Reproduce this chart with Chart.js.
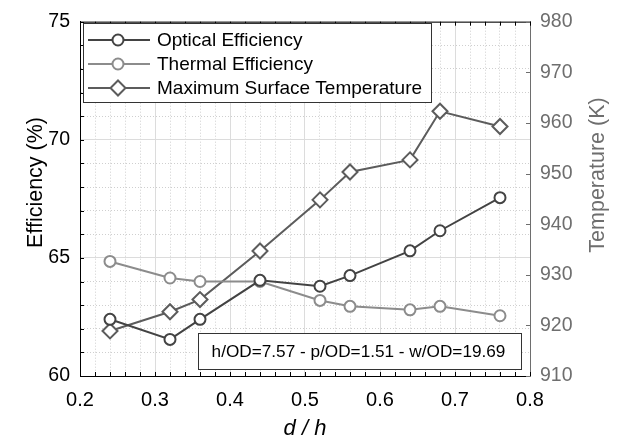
<!DOCTYPE html>
<html><head><meta charset="utf-8">
<script src="https://cdn.jsdelivr.net/npm/chart.js@4/dist/chart.umd.min.js"></script>
<style>html,body{margin:0;padding:0;background:#fff;}#wrap{width:618px;height:439px;}</style>
</head><body><div id="wrap"><canvas id="c" width="618" height="439"></canvas></div>
<script>
// ---- data ----
const dOverH = [0.24, 0.32, 0.36, 0.44, 0.52, 0.56, 0.64, 0.68, 0.76];
const opticalEfficiency = [62.4, 61.55, 62.4, 64.05, 63.8, 64.25, 65.3, 66.15, 67.55];
const thermalEfficiency = [64.85, 64.15, 64.0, 64.0, 63.2, 62.95, 62.8, 62.95, 62.55];
const maxSurfaceTemperature = [918.9, 922.7, 925.1, 934.7, 944.8, 950.3, 952.7, 962.3, 959.3];
const seriesLabels = ['Optical Efficiency', 'Thermal Efficiency', 'Maximum Surface Temperature'];
const xTickRange = [0.2, 0.8];
const effTickRange = [60, 75];
const tempTickRange = [910, 980];
const annotationText = 'h/OD=7.57 - p/OD=1.51 - w/OD=19.69';
const xTitle = 'd / h', yTitle = 'Efficiency (%)', y2Title = 'Temperature (K)';

const FONT = "'Liberation Sans', Arial, Helvetica, sans-serif";
const C_OPT = '#434343', C_TH = '#8c8c8c', C_TEMP = '#5c5c5c', C_R = '#6e6e6e';
const GRID_MAJOR = '#dcdcdc', GRID_MINOR = '#cfcfcf';

const isMajor = (v, m) => Math.abs(v / m - Math.round(v / m)) < 1e-6;
const pts = (ys) => dOverH.map((x, i) => ({x, y: ys[i]}));

function marker(ctx, style, x, y, r, color) {
  ctx.save();
  ctx.lineWidth = 2; ctx.strokeStyle = color; ctx.fillStyle = '#fff';
  ctx.beginPath();
  if (style === 'circle') ctx.arc(x, y, r, 0, Math.PI * 2);
  else { ctx.moveTo(x, y - r); ctx.lineTo(x + r, y); ctx.lineTo(x, y + r); ctx.lineTo(x - r, y); ctx.closePath(); }
  ctx.fill(); ctx.stroke();
  ctx.restore();
}

const decor = {
  id: 'decor',
  afterDraw(chart) {
    const {ctx, chartArea: a, scales} = chart;
    const line = (x1, y1, x2, y2) => { ctx.beginPath(); ctx.moveTo(x1, y1); ctx.lineTo(x2, y2); ctx.stroke(); };
    ctx.save();
    ctx.lineWidth = 1; ctx.strokeStyle = '#000';
    line(a.left, a.top + 0.5, a.right, a.top + 0.5);
    const tl = 4;
    scales.x.ticks.forEach(t => {
      const px = Math.round(scales.x.getPixelForValue(t.value)) + 0.5;
      line(px, a.bottom, px, a.bottom - tl);
      line(px, a.top, px, a.top + tl);
    });
    scales.y.ticks.forEach(t => {
      const py = Math.round(scales.y.getPixelForValue(t.value)) + 0.5;
      line(a.left, py, a.left + tl, py);
    });
    ctx.strokeStyle = C_R;
    scales.y2.ticks.forEach(t => {
      const py = Math.round(scales.y2.getPixelForValue(t.value)) + 0.5;
      line(a.right, py, a.right - tl, py);
    });
    // y titles (both read bottom-to-top)
    ctx.textAlign = 'center'; ctx.textBaseline = 'middle';
    ctx.font = `21.5px ${FONT}`;
    ctx.fillStyle = '#000';
    ctx.save(); ctx.translate(36, 182.5); ctx.rotate(-Math.PI / 2); ctx.fillText(yTitle, 0, 0); ctx.restore();
    ctx.fillStyle = C_R;
    ctx.save(); ctx.translate(598, 175); ctx.rotate(-Math.PI / 2); ctx.fillText(y2Title, 0, 0); ctx.restore();

    // legend box
    const lx = a.left + 3, ly = 23, lw = 348, lh = 79;
    ctx.fillStyle = '#fff'; ctx.fillRect(lx, ly, lw, lh);
    ctx.strokeStyle = '#333'; ctx.lineWidth = 1;
    ctx.strokeRect(lx + 0.5, ly + 0.5, lw, lh);
    chart.data.datasets.forEach((ds, i) => {
      const yy = 40 + i * 24;
      ctx.strokeStyle = ds.borderColor; ctx.lineWidth = 2;
      line(a.left + 8, yy, a.left + 70, yy);
      marker(ctx, ds.pointStyle === 'circle' ? 'circle' : 'diamond', a.left + 38, yy, ds.pointStyle === 'circle' ? 5.5 : 7.5, ds.borderColor);
      ctx.fillStyle = '#000'; ctx.textAlign = 'left'; ctx.textBaseline = 'middle';
      ctx.font = `19px ${FONT}`;
      ctx.fillText(ds.label, a.left + 77, yy + 1);
    });

    // annotation box
    const bx = a.left + 118, by = a.bottom - 43, bw = 323, bh = 36;
    ctx.fillStyle = '#fff'; ctx.fillRect(bx, by, bw, bh);
    ctx.strokeStyle = '#333'; ctx.lineWidth = 1;
    ctx.strokeRect(bx + 0.5, by + 0.5, bw, bh);
    ctx.fillStyle = '#000'; ctx.textAlign = 'center'; ctx.textBaseline = 'middle';
    ctx.font = `17.2px ${FONT}`;
    ctx.fillText(annotationText, bx + bw / 2 - 1, by + bh / 2 + 1);
    ctx.restore();
  }
};

const gridColor = (m) => (c) => (c.tick && isMajor(c.tick.value, m)) ? GRID_MAJOR : GRID_MINOR;
const gridDash = (m) => (c) => (c.tick && !isMajor(c.tick.value, m)) ? [1, 2] : [];

new Chart(document.getElementById('c'), {
  type: 'scatter',
  data: {
    datasets: [
      {label: seriesLabels[0], data: pts(opticalEfficiency), yAxisID: 'y', showLine: true,
       borderColor: C_OPT, borderWidth: 2, pointStyle: 'circle', pointRadius: 5.5, pointBorderWidth: 2,
       pointBackgroundColor: '#fff', pointBorderColor: C_OPT},
      {label: seriesLabels[1], data: pts(thermalEfficiency), yAxisID: 'y', showLine: true,
       borderColor: C_TH, borderWidth: 2, pointStyle: 'circle', pointRadius: 5.5, pointBorderWidth: 2,
       pointBackgroundColor: '#fff', pointBorderColor: C_TH},
      {label: seriesLabels[2], data: pts(maxSurfaceTemperature), yAxisID: 'y2', showLine: true,
       borderColor: C_TEMP, borderWidth: 2, pointStyle: 'rectRot', pointRadius: 7.5, pointBorderWidth: 2,
       pointBackgroundColor: '#fff', pointBorderColor: C_TEMP}
    ]
  },
  options: {
    responsive: false, animation: false, devicePixelRatio: 1,
    layout: {padding: {top: 19, left: 0, right: 0, bottom: 0}},
    plugins: {legend: {display: false}, tooltip: {enabled: false}},
    scales: {
      x: {
        type: 'linear', position: 'bottom', min: xTickRange[0], max: xTickRange[1],
        afterFit(s) { s.height = 63; },
        ticks: {stepSize: 0.02, autoSkip: false, maxRotation: 0, maxTicksLimit: 100, padding: 12, color: '#000',
                font: {family: FONT, size: 20},
                callback: v => isMajor(v, 0.1) ? v.toFixed(1) : ''},
        grid: {color: gridColor(0.1), lineWidth: 1, drawTicks: false},
        border: {color: '#000', width: 1, dash: gridDash(0.1)},
        title: {display: true, text: xTitle, color: '#000', font: {family: FONT, size: 22, style: 'italic'}, padding: {top: 0, bottom: -3}}
      },
      y: {
        type: 'linear', position: 'left', min: effTickRange[0], max: effTickRange[1],
        afterFit(s) { s.width = 80; },
        ticks: {stepSize: 1, autoSkip: false, maxTicksLimit: 100, padding: 10, color: '#000',
                font: {family: FONT, size: 19.5},
                callback: v => isMajor(v, 5) ? String(v) : ''},
        grid: {color: gridColor(5), lineWidth: 1, drawTicks: false},
        border: {color: '#000', width: 1, dash: gridDash(5)}
      },
      y2: {
        type: 'linear', position: 'right', min: tempTickRange[0], max: tempTickRange[1],
        afterFit(s) { s.width = 88; },
        ticks: {stepSize: 10, autoSkip: false, padding: 10, color: C_R, font: {family: FONT, size: 19.5}},
        grid: {drawOnChartArea: false, drawTicks: false},
        border: {color: C_R, width: 1}
      }
    }
  },
  plugins: [decor]
});
</script></body></html>
